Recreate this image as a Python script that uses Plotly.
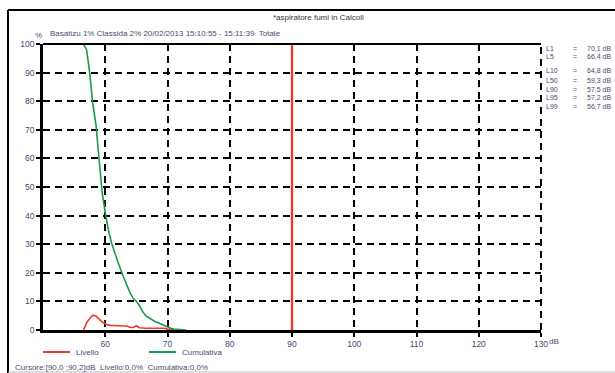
import plotly.graph_objects as go

# ---- data ----
levels_cum = [56.5, 57.0, 57.5, 58.0, 58.5, 59.0, 59.5, 60.0, 60.5, 61.0, 61.5, 62.0,
              62.5, 63.0, 63.5, 64.0, 64.5, 65.0, 65.5, 66.0, 66.5, 67.0, 67.5, 68.0,
              68.5, 69.0, 69.5, 70.0, 70.5, 71.0, 71.5, 72.0, 72.5, 73.0]
cumulativa = [100, 98, 90, 79, 72, 61, 48, 41, 35, 30.5, 27, 24,
              21, 18, 15.5, 13, 11, 10, 8.5, 6.5, 5, 4.3, 3.5, 3,
              2.5, 2, 1.5, 1, 0.6, 0.3, 0.2, 0.1, 0, 0]

levels_liv = [56.5, 57.0, 57.5, 58.0, 58.5, 59.0, 59.5, 60.0, 60.5, 61.0, 61.5, 62.0,
              62.5, 63.0, 63.5, 64.0, 64.5, 65.0, 65.5, 66.0, 66.5, 67.0, 67.5, 68.0,
              68.5, 69.0, 69.5, 70.0, 70.5, 71.0]
livello = [0, 2.5, 4.0, 5.2, 4.9, 3.8, 2.8, 2.2, 1.7, 1.6, 1.5, 1.5,
           1.4, 1.4, 1.4, 0.9, 0.9, 1.5, 0.8, 0.6, 0.6, 0.6, 0.6, 0.6,
           0.6, 0.6, 0.6, 0.3, 0.1, 0]

cursor_db = 90
x_ticks = [60, 70, 80, 90, 100, 110, 120, 130]
y_ticks = [0, 10, 20, 30, 40, 50, 60, 70, 80, 90, 100]

stat_names = ["L1", "L5", "L10", "L50", "L90", "L95", "L99"]
stat_values = ["70,1 dB", "66,4 dB", "64,8 dB", "59,3 dB", "57,5 dB", "57,2 dB", "56,7 dB"]

title_text = "*aspiratore fumi in Calcoli"
subtitle_text = "Basatizu 1% Classida 2% 20/02/2013 15:10:55 - 15:11:39  Totale"
cursor_text = "Cursore:[90,0 ;90,2]dB  Livello:0,0%  Cumulativa:0,0%"

RED = "#ee3a2c"
GREEN = "#1b9a4c"
TXT = "#4a4a70"
FONT = "Liberation Sans"

W, H = 615, 373
L, R, T, B = 43, 74, 44, 43
PW, PH = W - L - R, H - T - B


def px(x):
    return (x - L) / PW


def py(y):
    return (H - B - y) / PH


fig = go.Figure()
fig.add_trace(go.Scatter(x=levels_cum, y=cumulativa, mode="lines",
                         line=dict(color=GREEN, width=1.6), showlegend=False))
fig.add_trace(go.Scatter(x=levels_liv, y=livello, mode="lines",
                         line=dict(color=RED, width=1.6), showlegend=False))
fig.add_trace(go.Scatter(x=[cursor_db, cursor_db], y=[0, 100], mode="lines",
                         line=dict(color=RED, width=2.4), showlegend=False))

shapes = []
# top border of plot
shapes.append(dict(type="line", xref="paper", yref="paper", x0=0, x1=1, y0=1, y1=1,
                   line=dict(color="black", width=2)))
# right dashed border
shapes.append(dict(type="line", xref="paper", yref="paper", x0=1, x1=1, y0=0, y1=1,
                   line=dict(color="black", width=2, dash="7px,5px")))
# outer frame
shapes.append(dict(type="line", xref="paper", yref="paper", x0=px(8), x1=px(8), y0=py(10), y1=py(373),
                   line=dict(color="black", width=2)))
shapes.append(dict(type="line", xref="paper", yref="paper", x0=px(8), x1=px(615), y0=py(10), y1=py(10),
                   line=dict(color="black", width=2)))
shapes.append(dict(type="line", xref="paper", yref="paper", x0=px(8), x1=px(615), y0=py(372), y1=py(372),
                   line=dict(color="#bbbbbb", width=1)))
# legend lines
shapes.append(dict(type="line", xref="paper", yref="paper", x0=px(43), x1=px(70), y0=py(352), y1=py(352),
                   line=dict(color=RED, width=2)))
shapes.append(dict(type="line", xref="paper", yref="paper", x0=px(149), x1=px(176), y0=py(352), y1=py(352),
                   line=dict(color=GREEN, width=2)))

ann = []


def text(x, y, s, anchor="left", size=8, color=TXT):
    ann.append(dict(x=px(x), y=py(y), xref="paper", yref="paper", text=s, showarrow=False,
                    xanchor=anchor, yanchor="middle", font=dict(family=FONT, size=size, color=color)))


text(318, 17, title_text, "center", 8, "#333344")
text(33, 35, "%", "left", 8)
text(48, 34, subtitle_text, "left", 8)
text(74, 352, "Livello", "left", 8)
text(180, 352, "Cumulativa", "left", 8)
text(13, 367, cursor_text, "left", 8)
text(547, 341, "dB", "left", 8)

row_y = [48.5, 56.5, 70, 80.5, 89.5, 97.5, 106]
for name, val, yy in zip(stat_names, stat_values, row_y):
    text(544, yy, name, "left", 7)
    text(571, yy, "=", "left", 7)
    text(585, yy, val, "left", 7)

fig.update_layout(
    width=W, height=H,
    margin=dict(l=L, r=R, t=T, b=B, pad=0),
    paper_bgcolor="white", plot_bgcolor="white",
    shapes=shapes, annotations=ann,
    xaxis=dict(range=[50, 130], tickvals=x_ticks, ticktext=[str(v) for v in x_ticks],
               showgrid=True, gridcolor="black", gridwidth=2, griddash="7px,5px",
               showline=True, linecolor="black", linewidth=2.5,
               ticks="outside", ticklen=4, tickwidth=2, tickcolor="black",
               tickfont=dict(family=FONT, size=8.5, color=TXT), zeroline=False, fixedrange=True),
    yaxis=dict(range=[0, 100], tickvals=y_ticks, ticktext=[str(v) for v in y_ticks],
               showgrid=True, gridcolor="black", gridwidth=2, griddash="7px,5px",
               showline=True, linecolor="black", linewidth=2.5,
               ticks="outside", ticklen=4, tickwidth=2, tickcolor="black",
               tickfont=dict(family=FONT, size=8.5, color=TXT), zeroline=False, fixedrange=True),
)

fig.write_html("out.html", config={"displayModeBar": False},
               post_script="document.body.style.margin='0';document.body.style.overflow='hidden';")
